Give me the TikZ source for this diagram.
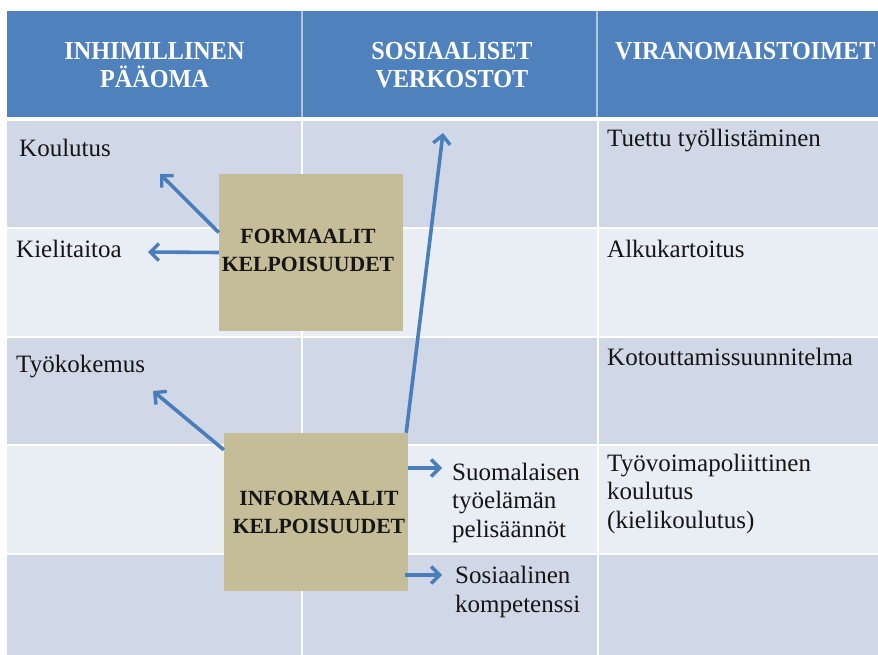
\documentclass[tikz,border=0pt]{standalone}
\usepackage{fontspec}
\setmainfont{Liberation Serif}
\newfontfamily\hdrfont[FakeStretch=0.93]{Liberation Serif}
\usetikzlibrary{arrows.meta}
\definecolor{hdrblue}{HTML}{4F81BD}
\definecolor{rowdark}{HTML}{D0D8E8}
\definecolor{rowlight}{HTML}{E9EDF4}
\definecolor{boxtan}{HTML}{C4BD97}
\definecolor{arrblue}{HTML}{4A7EBB}
\definecolor{txt}{HTML}{151515}
\tikzset{
  hdrtext/.style={text=white, font=\hdrfont\bfseries\fontsize{26}{28}\selectfont, inner sep=0pt, align=center},
  bodytext/.style={text=txt, font=\fontsize{25}{28.5}\selectfont, inner sep=0pt, align=left},
  kbox/.style={fill=boxtan, text=txt, font=\bfseries\fontsize{21.7}{27.5}\selectfont, align=center, inner sep=0pt},
  arr/.style={draw=arrblue, line width=3.6pt, -{Straight Barb[length=8.5pt,width=17pt,line width=3.4pt]}},
  divider/.style={draw=white, line width=2pt}
}
\begin{document}
\begin{tikzpicture}[x=1pt,y=-1pt]
\clip (0,0) rectangle (878,655);
\fill[white] (0,0) rectangle (878,655);
% header and rows
\fill[hdrblue] (7,11) rectangle (878,117);
\fill[rowdark] (7,121) rectangle (878,227);
\fill[rowlight] (7,229) rectangle (878,336);
\fill[rowdark] (7,338) rectangle (878,444);
\fill[rowlight] (7,446) rectangle (878,553);
\fill[rowdark] (7,555) rectangle (878,655);
\draw[divider] (302,121) -- (302,655);
\draw[divider] (598,121) -- (598,655);
\draw[draw=white, opacity=0.55, line width=1.5pt] (302,11) -- (302,117);
\draw[draw=white, opacity=0.55, line width=1.5pt] (597,11) -- (597,117);
% header text (base anchor = last line baseline)
\node[hdrtext, anchor=base] (h1) at (154.5,88) {INHIMILLINEN\\PÄÄOMA};
\node[hdrtext, anchor=base] (h2) at (452,88) {SOSIAALISET\\VERKOSTOT};
\node[hdrtext, anchor=base west] (h3) at (615,60) {VIRANOMAISTOIMET};
% left column
\node[bodytext, anchor=base west] (koul) at (19,157) {Koulutus};
\node[bodytext, anchor=base west] (kiel) at (16,257) {Kielitaitoa};
\node[bodytext, anchor=base west] (tyok) at (16,372) {Työkokemus};
% right column
\node[bodytext, anchor=base west] (tuet) at (607,147) {Tuettu työllistäminen};
\node[bodytext, anchor=base west] (alku) at (607,257) {Alkukartoitus};
\node[bodytext, anchor=base west] (koto) at (607,365) {Kotouttamissuunnitelma};
\node[bodytext, anchor=base west] (tyov) at (607,528) {Työvoimapoliittinen\\koulutus\\(kielikoulutus)};
% middle texts
\node[bodytext, anchor=base west] (suom) at (452,537) {Suomalaisen\\työelämän\\pelisäännöt};
\node[bodytext, anchor=base west] (sosk) at (455,612) {Sosiaalinen\\kompetenssi};
% boxes
\node[kbox, minimum width=184pt, minimum height=157pt] (formal) at (311,252.5) {};
\node[kbox, fill=none, anchor=base] (ftext) at (308,271) {FORMAALIT\\KELPOISUUDET};
\node[kbox, minimum width=184pt, minimum height=158pt] (informal) at (316,512) {};
\node[kbox, fill=none, anchor=base] (itext) at (319,533) {INFORMAALIT\\KELPOISUUDET};
% arrow tips
\coordinate (tkoul) at (160,174);
\coordinate (tkiel) at (148,252);
\coordinate (ttyok) at (153,391);
\coordinate (tsos) at (443,133);
\coordinate (tsuom) at (442,468);
\coordinate (tkomp) at (442,575);
% arrows
\draw[arr] ([yshift=20pt]formal.west) -- (tkoul);
\draw[arr] (formal.west) -- (tkiel);
\draw[arr] ([yshift=-17pt]informal.north west) -- (ttyok);
\draw[arr] ([xshift=-2pt]informal.north east) -- (tsos);
\draw[arr] ([yshift=44pt]informal.east) -- (tsuom);
\draw[arr] ([yshift=-63pt,xshift=-3pt]informal.east) -- (tkomp);
\end{tikzpicture}
\end{document}
